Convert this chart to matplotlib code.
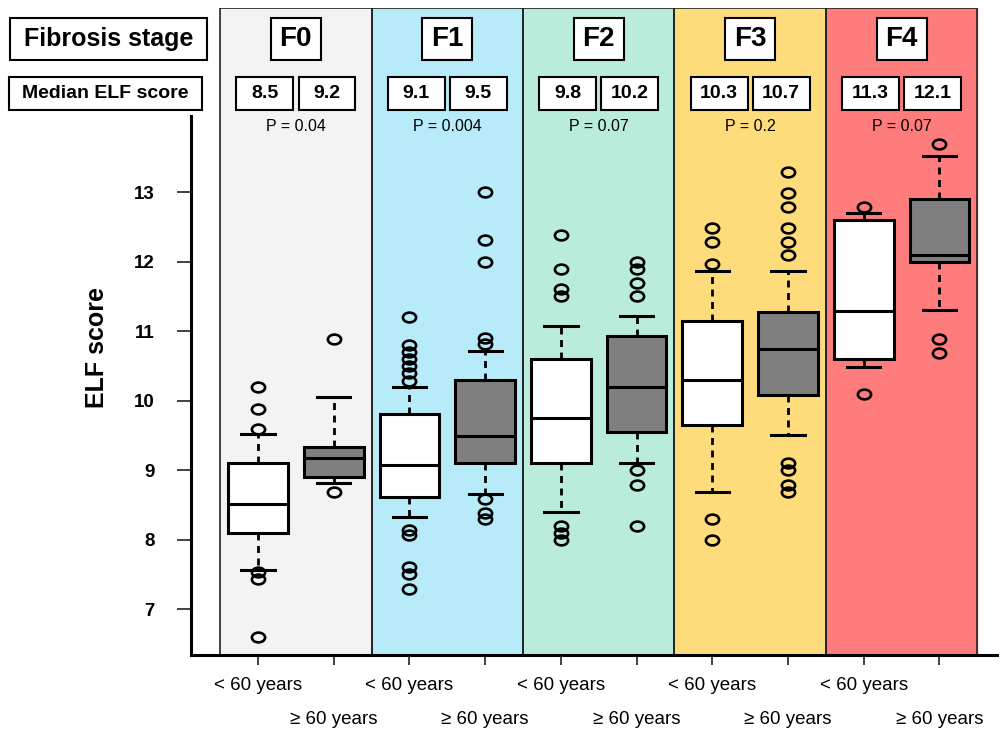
import numpy as np
import matplotlib
matplotlib.use('Agg')
import matplotlib.pyplot as plt
from matplotlib.patches import Rectangle
from matplotlib.path import Path

plt.rcParams['font.family'] = ['Liberation Sans', 'DejaVu Sans']

stages = ['F0', 'F1', 'F2', 'F3', 'F4']
groups = ['< 60 years', '≥ 60 years']
median_labels = ['8.5', '9.2', '9.1', '9.5', '9.8', '10.2', '10.3', '10.7', '11.3', '12.1']
p_values = ['0.04', '0.004', '0.07', '0.2', '0.07']
panel_colors = ['#F3F3F3', '#B8EBF9', '#BAECDC', '#FEDC7B', '#FE7C7C']

# box statistics, one entry per box (<60, >=60 for each stage)
q1 = [8.09, 8.90, 8.61, 9.10, 9.10, 9.55, 9.65, 10.08, 10.60, 11.99]
med = [8.51, 9.18, 9.08, 9.49, 9.75, 10.20, 10.30, 10.75, 11.29, 12.10]
q3 = [9.10, 9.34, 9.81, 10.30, 10.60, 10.93, 11.14, 11.28, 12.60, 12.90]
whislo = [7.57, 8.82, 8.32, 8.66, 8.40, 9.10, 8.69, 9.50, 10.49, 11.31]
whishi = [9.52, 10.05, 10.20, 10.72, 11.08, 11.22, 11.87, 11.87, 12.70, 13.52]
fliers = [
    [10.20, 9.88, 9.59, 7.53, 7.43, 6.60],
    [10.89, 8.69],
    [11.21, 10.80, 10.70, 10.60, 10.50, 10.40, 10.28, 8.14, 8.07, 7.60, 7.51, 7.29],
    [13.00, 12.31, 11.99, 10.90, 10.81, 8.59, 8.39, 8.30],
    [12.39, 11.90, 11.61, 11.50, 8.20, 8.09, 7.99],
    [12.00, 11.90, 11.69, 11.50, 9.00, 8.79, 8.19],
    [12.49, 12.29, 11.97, 8.30, 7.99],
    [13.29, 12.99, 12.79, 12.49, 12.29, 12.09, 9.10, 9.00, 8.79, 8.69],
    [12.79, 10.09],
    [13.69, 10.89, 10.69],
]

W, H = 1003, 735
fig = plt.figure(figsize=(W / 100, H / 100), dpi=100)
ax = fig.add_axes([191 / W, 1 - 655 / H, (997 - 191) / W, (655 - 8) / H])

positions = np.arange(1, len(med) + 1)
edges = np.arange(0.5, len(med) + 1, 2)

# coloured stage panels
for i, c in enumerate(panel_colors):
    ax.axvspan(edges[i], edges[i + 1], color=c, zorder=0)
    ax.add_patch(Rectangle((edges[i], 6.34), 2, 15.65 - 6.34, fill=False,
                           edgecolor='#222222', lw=1.2, zorder=0.5))

stats = []
for i in range(len(med)):
    stats.append(dict(med=med[i], q1=q1[i], q3=q3[i], whislo=whislo[i],
                      whishi=whishi[i], fliers=fliers[i]))

circ = Path.unit_circle()
ellipse = Path(circ.vertices * [1.35, 1.0], circ.codes)

bp = ax.bxp(stats, positions=positions, widths=0.79, capwidths=0.44,
            patch_artist=True, showfliers=True,
            boxprops=dict(edgecolor='black', linewidth=2.2),
            medianprops=dict(color='black', linewidth=2.2),
            whiskerprops=dict(color='black', linewidth=2, linestyle=(0, (2.5, 2))),
            capprops=dict(color='black', linewidth=2.2),
            flierprops=dict(marker=ellipse, markersize=9.5, markerfacecolor='none',
                            markeredgecolor='black', markeredgewidth=1.9, linestyle='none'))
for j, box in enumerate(bp['boxes']):
    box.set_facecolor('white' if j % 2 == 0 else '#7F7F7F')
    box.set_zorder(2)

ax.set_xlim(0.115, 10.76)
ax.set_ylim(6.34, 15.65)

ax.spines['top'].set_visible(False)
ax.spines['right'].set_visible(False)
ax.spines['left'].set_bounds(6.34, 14.09)
ax.spines['left'].set_linewidth(2.2)
ax.spines['bottom'].set_linewidth(2.2)

ax.set_yticks(range(7, 14))
ax.set_yticklabels([str(v) for v in range(7, 14)], fontweight='bold', fontsize=13.5)
ax.tick_params(axis='y', length=10, width=1.3, pad=16, color='#333333')

ax.set_xticks(positions[0::2], [groups[0]] * 5)
ax.set_xticks(positions[1::2], [groups[1]] * 5, minor=True)
ax.tick_params(axis='x', which='both', length=7, width=1.3, labelsize=13.5, color='#333333')
ax.tick_params(axis='x', which='major', pad=9)
ax.tick_params(axis='x', which='minor', pad=33)

fig.text(97 / W, 1 - 347 / H, 'ELF score', rotation=90, ha='center', va='center',
         fontsize=18, fontweight='bold')

# header boxes
centers = (edges[:-1] + edges[1:]) / 2
for i, s in enumerate(stages):
    c = centers[i]
    ax.add_patch(Rectangle((c - 0.33, 14.90), 0.66, 0.60, facecolor='white',
                           edgecolor='black', lw=1.5, zorder=3))
    ax.text(c, 15.20, s, ha='center', va='center', fontsize=20, fontweight='bold', zorder=4)
    for k, dx in enumerate([-0.41, 0.41]):
        ax.add_patch(Rectangle((c + dx - 0.375, 14.18), 0.75, 0.47, facecolor='white',
                               edgecolor='black', lw=1.5, zorder=3))
        ax.text(c + dx, 14.415, median_labels[2 * i + k], ha='center', va='center',
                fontsize=14, fontweight='bold', zorder=4)
    ax.text(c, 13.95, 'P = ' + p_values[i], ha='center', va='center', fontsize=11.5)


def fig_box(x0, y0, x1, y1, text, size):
    fig.add_artist(Rectangle((x0 / W, 1 - y1 / H), (x1 - x0) / W, (y1 - y0) / H,
                             transform=fig.transFigure, facecolor='white',
                             edgecolor='black', lw=1.5))
    fig.text((x0 + x1) / 2 / W, 1 - (y0 + y1) / 2 / H, text, ha='center', va='center',
             fontsize=size, fontweight='bold')


fig_box(10, 18, 207, 60, 'Fibrosis stage', 18)
fig_box(9, 77, 202, 110, 'Median ELF score', 14)

fig.savefig('out.png', dpi=100)
